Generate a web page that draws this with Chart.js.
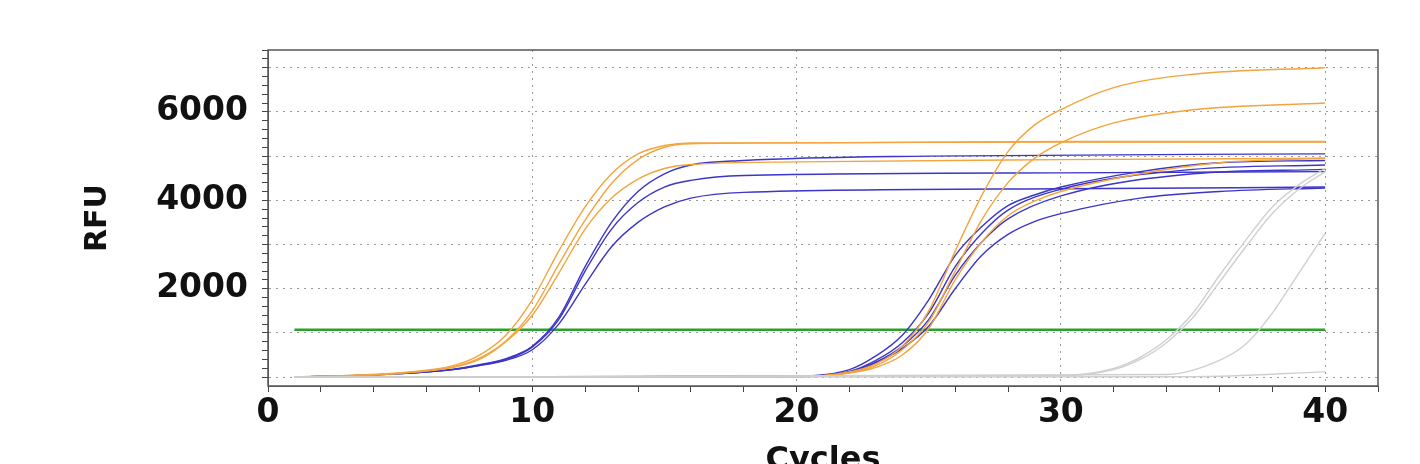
<!DOCTYPE html>
<html>
<head>
<meta charset="utf-8">
<script src="https://cdn.jsdelivr.net/npm/chart.js@4/dist/chart.umd.min.js"></script>
<style>
  body { margin: 0; background: #fff; }
  #wrap { width: 1420px; height: 464px; }
</style>
</head>
<body>
<div id="wrap"><canvas id="pcrChart"></canvas></div>
<script>
// amplification curves, values (cycle, RFU)
const earlyOrangeA = [[1,0],[5,100],[7,260],[8,500],[9,950],[10,1750],[11,2850],[12,3850],[13,4600],[14,5050],[15,5240],[16,5300],[20,5300],[30,5330],[40,5330]];
const earlyOrangeA2 = [[1,0],[5,90],[7,230],[8,430],[9,820],[10,1500],[11,2550],[12,3550],[13,4380],[14,4920],[15,5200],[16,5280],[20,5300],[30,5320],[40,5320]];
const earlyOrangeB = [[1,0],[5,90],[7,220],[8,400],[9,800],[10,1400],[11,2350],[12,3350],[13,4050],[14,4480],[15,4720],[16,4810],[20,4870],[30,4920],[40,4950]];
const earlyBlue1 = [[1,0],[5,80],[7,180],[8,280],[9,420],[10,700],[11,1350],[12,2500],[13,3500],[14,4200],[15,4600],[16,4800],[18,4900],[25,5000],[40,5050]];
const earlyBlue2 = [[1,0],[5,80],[7,170],[8,270],[9,400],[10,680],[11,1300],[12,2400],[13,3350],[14,3950],[15,4300],[16,4450],[18,4560],[30,4620],[40,4650]];
const earlyBlue3 = [[1,0],[5,80],[7,170],[8,260],[9,380],[10,620],[11,1200],[12,2100],[13,2950],[14,3500],[15,3850],[16,4050],[18,4180],[30,4260],[40,4300]];
const lateOrange1 = [[1,0],[20,10],[22,120],[23,300],[24,700],[25,1500],[26,2850],[27,4100],[28,5100],[29,5700],[30,6050],[32,6550],[35,6850],[40,7000]];
const lateOrange2 = [[1,0],[20,10],[22,100],[23,260],[24,620],[25,1250],[26,2400],[27,3550],[28,4400],[29,4950],[30,5300],[32,5750],[35,6050],[40,6200]];
const lateOrange3 = [[1,0],[20,10],[22,90],[23,220],[24,500],[25,1100],[26,2200],[27,3050],[28,3650],[29,3980],[30,4200],[33,4600],[36,4850],[40,4950]];
const lateBlue1 = [[1,0],[20,20],[22,170],[23,480],[24,950],[25,1750],[26,2750],[27,3400],[28,3880],[29,4120],[30,4300],[33,4650],[36,4850],[40,4900]];
const lateBlue2 = [[1,0],[20,15],[22,130],[23,380],[24,780],[25,1450],[26,2500],[27,3250],[28,3780],[30,4250],[35,4700],[40,4800]];
const lateBlue3 = [[1,0],[20,15],[22,120],[23,340],[24,700],[25,1300],[26,2300],[27,3050],[28,3580],[30,4100],[35,4600],[40,4700]];
const lateBlue4 = [[1,0],[20,15],[22,110],[23,320],[24,650],[25,1150],[26,2000],[27,2750],[28,3230],[29,3520],[30,3700],[33,4050],[36,4200],[40,4280]];
const grayA = [[1,0],[30,40],[32,200],[33,450],[34,850],[35,1450],[36,2300],[37,3100],[38,3850],[39,4350],[40,4720]];
const grayB = [[1,0],[30,30],[32,170],[33,400],[34,780],[35,1350],[36,2150],[37,2950],[38,3700],[39,4250],[40,4650]];
const grayC = [[1,0],[34,60],[36,380],[37,750],[38,1450],[39,2350],[40,3250]];
const grayD = [[1,0],[35,10],[40,120]];
const thresholdLine = [[1,1070],[40,1070]];

const xTickLabels = [0, 10, 20, 30, 40];
const yTickLabels = [2000, 4000, 6000];

const ORANGE = '#f4a43c';
const BLUE = '#3b35c8';
const GRAY = '#cfcfcf';

const curves = [
  [grayA, GRAY], [grayB, GRAY], [grayC, GRAY], [grayD, GRAY],
  [earlyOrangeA, ORANGE], [earlyOrangeA2, ORANGE], [earlyOrangeB, ORANGE],
  [lateOrange1, ORANGE], [lateOrange2, ORANGE], [lateOrange3, ORANGE],
  [earlyBlue1, BLUE], [earlyBlue2, BLUE], [earlyBlue3, BLUE],
  [lateBlue1, BLUE], [lateBlue2, BLUE], [lateBlue3, BLUE], [lateBlue4, BLUE],
];

const datasets = curves.map(([pts, col]) => ({
  data: pts.map(p => ({ x: p[0], y: p[1] })),
  borderColor: col,
  borderWidth: 1.4,
  pointRadius: 0,
  cubicInterpolationMode: 'monotone',
  fill: false
}));
datasets.push({
  data: thresholdLine.map(p => ({ x: p[0], y: p[1] })),
  borderColor: '#2ca02c',
  borderWidth: 2.5,
  pointRadius: 0
});

// frame around the plot area (top and right sides too)
const frame = {
  id: 'frame',
  afterDraw(chart) {
    const { ctx, chartArea: a } = chart;
    ctx.save();
    ctx.strokeStyle = '#555';
    ctx.lineWidth = 1.5;
    ctx.strokeRect(a.left, a.top, a.right - a.left, a.bottom - a.top);
    ctx.restore();
  }
};

const tickFont = { family: 'DejaVu Sans', size: 33, weight: 'bold' };

new Chart(document.getElementById('pcrChart'), {
  type: 'line',
  data: { datasets },
  plugins: [frame],
  options: {
    responsive: true,
    maintainAspectRatio: false,
    animation: false,
    layout: { padding: { top: 50, right: 42, left: 0, bottom: 0 } },
    plugins: { legend: { display: false }, tooltip: { enabled: false } },
    scales: {
      x: {
        type: 'linear', min: 0, max: 42,
        afterBuildTicks: s => {
          const t = [];
          for (let v = 0; v <= 42; v += 2) t.push({ value: v });
          s.ticks = t;
        },
        afterFit: s => { s.height = 78; },
        ticks: {
          autoSkip: false, maxRotation: 0, color: '#111', font: tickFont, padding: 2,
          callback: v => xTickLabels.includes(v) ? String(v) : ''
        },
        grid: {
          color: c => (c.tick && xTickLabels.includes(c.tick.value) && c.tick.value > 0) ? '#999' : 'rgba(0,0,0,0)',
          tickColor: '#444', tickLength: 6, lineWidth: 1
        },
        border: { dash: [2, 5], color: '#555' },
        title: { display: true, text: 'Cycles', color: '#111', font: { family: 'DejaVu Sans', size: 32, weight: 'bold' }, padding: { top: 0, bottom: -16 } }
      },
      y: {
        min: -200, max: 7400,
        afterBuildTicks: s => {
          const t = [];
          for (let v = 0; v <= 7400; v += 200) t.push({ value: v });
          s.ticks = t;
        },
        afterFit: s => { s.width = 268; },
        ticks: {
          autoSkip: false, color: '#111', font: tickFont, padding: 14,
          callback: v => yTickLabels.includes(v) ? String(v) : ''
        },
        grid: {
          color: c => (c.tick && c.tick.value % 1000 === 0) ? '#999' : 'rgba(0,0,0,0)',
          tickColor: '#444', tickLength: 6, lineWidth: 1
        },
        border: { dash: [2, 5], color: '#555' },
        title: { display: true, text: 'RFU', color: '#111', font: { family: 'DejaVu Sans', size: 30, weight: 'bold' }, padding: { top: 80, bottom: 0 } }
      }
    }
  }
});
</script>
</body>
</html>
